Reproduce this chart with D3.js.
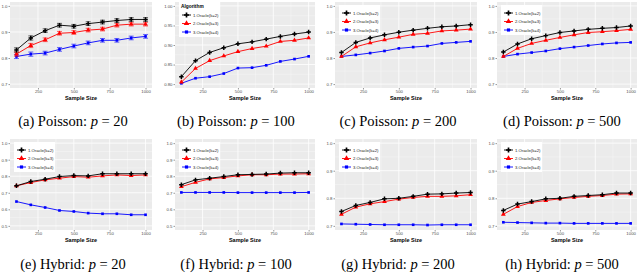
<!DOCTYPE html>
<html>
<head>
<meta charset="utf-8">
<script src="https://cdn.jsdelivr.net/npm/d3@7"></script>
<style>
  body { margin: 0; background: #fff; }
  svg { display: block; }
</style>
</head>
<body>
<svg width="640" height="274"></svg>
<script>
// sample sizes on the x axis
const sampleSizes = [100, 200, 300, 400, 500, 600, 700, 800, 900, 1000];
const xTicks = [250, 500, 750, 1000];
const xMinor = [125, 375, 625, 875];
const seriesNames = ['1.Oracle(k=2)', '2.Oracle(k=3)', '3.Oracle(k=4)'];
const seriesColors = ['#000000', '#ff0000', '#0000ff'];

// (a) Poisson p = 20
const poisson20K2 = [0.831, 0.877, 0.905, 0.926, 0.922, 0.932, 0.938, 0.944, 0.948, 0.948];
const poisson20K3 = [0.815, 0.848, 0.870, 0.895, 0.898, 0.907, 0.911, 0.926, 0.930, 0.930];
const poisson20K4 = [0.806, 0.815, 0.819, 0.833, 0.846, 0.858, 0.868, 0.868, 0.877, 0.883];
const poisson20Err = [0.008, 0.008, 0.007, 0.007, 0.007, 0.007, 0.007, 0.007, 0.007, 0.007];
const yTicksA = [0.7, 0.8, 0.9, 1.0];

// (b) Poisson p = 100
const poisson100K2 = [0.819, 0.860, 0.881, 0.893, 0.903, 0.908, 0.915, 0.922, 0.928, 0.933];
const poisson100K3 = [0.805, 0.840, 0.860, 0.872, 0.883, 0.891, 0.897, 0.909, 0.912, 0.918];
const poisson100K4 = [0.802, 0.815, 0.819, 0.827, 0.841, 0.842, 0.848, 0.858, 0.864, 0.871];
const yTicksB = [0.80, 0.85, 0.90, 0.95, 1.00];

// (c) Poisson p = 200
const poisson200K2 = [0.821, 0.860, 0.877, 0.889, 0.899, 0.907, 0.914, 0.920, 0.923, 0.928];
const poisson200K3 = [0.806, 0.843, 0.858, 0.870, 0.880, 0.891, 0.895, 0.904, 0.907, 0.911];
const poisson200K4 = [0.806, 0.812, 0.819, 0.827, 0.837, 0.842, 0.846, 0.856, 0.860, 0.864];
const yTicksC = [0.7, 0.8, 0.9, 1.0];

// (d) Poisson p = 500
const poisson500K2 = [0.823, 0.854, 0.874, 0.886, 0.898, 0.904, 0.910, 0.914, 0.917, 0.923];
const poisson500K3 = [0.806, 0.837, 0.856, 0.868, 0.879, 0.889, 0.898, 0.901, 0.905, 0.910];
const poisson500K4 = [0.806, 0.815, 0.821, 0.827, 0.836, 0.842, 0.848, 0.854, 0.858, 0.860];
const yTicksD = [0.7, 0.8, 0.9, 1.0];

// (e) Hybrid p = 20
const hybrid20K2 = [0.742, 0.768, 0.782, 0.798, 0.804, 0.802, 0.815, 0.815, 0.815, 0.815];
const hybrid20K3 = [0.742, 0.762, 0.778, 0.788, 0.798, 0.794, 0.802, 0.808, 0.804, 0.808];
const hybrid20K4 = [0.647, 0.627, 0.611, 0.593, 0.587, 0.577, 0.573, 0.573, 0.567, 0.567];
const yTicksE = [0.5, 0.6, 0.7, 0.8, 0.9, 1.0];

// (f) Hybrid p = 100
const hybrid100K2 = [0.749, 0.778, 0.788, 0.798, 0.809, 0.811, 0.813, 0.819, 0.821, 0.821];
const hybrid100K3 = [0.737, 0.763, 0.784, 0.792, 0.802, 0.809, 0.809, 0.813, 0.813, 0.815];
const hybrid100K4 = [0.702, 0.702, 0.702, 0.702, 0.701, 0.701, 0.701, 0.701, 0.701, 0.702];
const yTicksF = [0.5, 0.6, 0.7, 0.8, 0.9, 1.0];

// (g) Hybrid p = 200
const hybrid200K2 = [0.752, 0.774, 0.785, 0.798, 0.800, 0.807, 0.815, 0.816, 0.819, 0.821];
const hybrid200K3 = [0.742, 0.768, 0.780, 0.788, 0.797, 0.803, 0.807, 0.807, 0.809, 0.813];
const hybrid200K4 = [0.707, 0.706, 0.705, 0.704, 0.704, 0.704, 0.703, 0.704, 0.704, 0.704];
const yTicksG = [0.7, 0.8, 0.9, 1.0];

// (h) Hybrid p = 500
const hybrid500K2 = [0.756, 0.779, 0.788, 0.798, 0.800, 0.807, 0.810, 0.813, 0.819, 0.819];
const hybrid500K3 = [0.742, 0.770, 0.785, 0.792, 0.798, 0.803, 0.807, 0.810, 0.815, 0.816];
const hybrid500K4 = [0.713, 0.712, 0.711, 0.710, 0.710, 0.709, 0.709, 0.709, 0.709, 0.709];
const yTicksH = [0.7, 0.8, 0.9, 1.0];

const captionLetters = ['(a)', '(b)', '(c)', '(d)', '(e)', '(f)', '(g)', '(h)'];
const captionModels = ['Poisson', 'Poisson', 'Poisson', 'Poisson', 'Hybrid', 'Hybrid', 'Hybrid', 'Hybrid'];
const captionP = ['20', '100', '200', '500', '20', '100', '200', '500'];

// build the panel table from the arrays
// legend: 'none', 'plain' or 'titled'
const panels = [
  { series: [poisson20K2, poisson20K3, poisson20K4], err: poisson20Err, yTicks: yTicksA, legend: 'none' },
  { series: [poisson100K2, poisson100K3, poisson100K4], err: null, yTicks: yTicksB, legend: 'titled' },
  { series: [poisson200K2, poisson200K3, poisson200K4], err: null, yTicks: yTicksC, legend: 'plain' },
  { series: [poisson500K2, poisson500K3, poisson500K4], err: null, yTicks: yTicksD, legend: 'plain' },
  { series: [hybrid20K2, hybrid20K3, hybrid20K4], err: null, yTicks: yTicksE, legend: 'plain' },
  { series: [hybrid100K2, hybrid100K3, hybrid100K4], err: null, yTicks: yTicksF, legend: 'plain' },
  { series: [hybrid200K2, hybrid200K3, hybrid200K4], err: null, yTicks: yTicksG, legend: 'plain' },
  { series: [hybrid500K2, hybrid500K3, hybrid500K4], err: null, yTicks: yTicksH, legend: 'plain' }
];

// layout of the plot areas
const colX = [[10, 152], [175, 315], [335, 477], [497, 637]];
const rowY = [[2, 88], [139, 230]];
const captionX = [73, 236, 398, 562];
const captionY = [126, 269];

const svg = d3.select('svg');
const symbols = [d3.symbolCross, d3.symbolTriangle, d3.symbolSquare];
const symbolSizes = [11, 10, 7];

panels.forEach(function (p, i) {
  const col = i % 4, row = Math.floor(i / 4);
  const [x0, x1] = colX[col];
  const [y0, y1] = rowY[row];

  const lo = d3.min(p.yTicks), hi = d3.max(p.yTicks);
  const pad = (hi - lo) * 0.05;
  const x = d3.scaleLinear().domain([55, 1045]).range([x0, x1]);
  const y = d3.scaleLinear().domain([lo - pad, hi + pad]).range([y1, y0]);

  const g = svg.append('g');

  // panel background
  g.append('rect')
    .attr('x', x0).attr('y', y0)
    .attr('width', x1 - x0).attr('height', y1 - y0)
    .attr('fill', '#ebebeb');

  // minor grid
  const step = p.yTicks[1] - p.yTicks[0];
  const yMinor = p.yTicks.map(function (t) { return t - step / 2; })
    .concat([hi + step / 2])
    .filter(function (t) { return t > lo - pad && t < hi + pad; });
  g.selectAll('.ymin').data(yMinor).enter().append('line')
    .attr('x1', x0).attr('x2', x1)
    .attr('y1', function (d) { return y(d); }).attr('y2', function (d) { return y(d); })
    .attr('stroke', '#fafafa').attr('stroke-width', 0.4);
  g.selectAll('.xmin').data(xMinor).enter().append('line')
    .attr('y1', y0).attr('y2', y1)
    .attr('x1', function (d) { return x(d); }).attr('x2', function (d) { return x(d); })
    .attr('stroke', '#fafafa').attr('stroke-width', 0.4);

  // major grid
  g.selectAll('.ymaj').data(p.yTicks).enter().append('line')
    .attr('x1', x0).attr('x2', x1)
    .attr('y1', function (d) { return y(d); }).attr('y2', function (d) { return y(d); })
    .attr('stroke', '#ffffff').attr('stroke-width', 0.8);
  g.selectAll('.xmaj').data(xTicks).enter().append('line')
    .attr('y1', y0).attr('y2', y1)
    .attr('x1', function (d) { return x(d); }).attr('x2', function (d) { return x(d); })
    .attr('stroke', '#ffffff').attr('stroke-width', 0.8);

  // axes
  const fmt = (step < 0.1 - 1e-9) ? d3.format('.2f') : d3.format('.1f');
  const yAxis = g.append('g')
    .attr('transform', 'translate(' + x0 + ',0)')
    .call(d3.axisLeft(y).tickValues(p.yTicks).tickFormat(fmt).tickSize(1.5).tickPadding(1));
  const xAxis = g.append('g')
    .attr('transform', 'translate(0,' + y1 + ')')
    .call(d3.axisBottom(x).tickValues(xTicks).tickFormat(d3.format('d')).tickSize(1.5).tickPadding(0.5));
  [xAxis, yAxis].forEach(function (a) {
    a.select('.domain').remove();
    a.selectAll('line').attr('stroke', '#333').attr('stroke-width', 0.5);
    a.selectAll('text').attr('fill', '#4d4d4d')
      .style('font', '4.3px "Liberation Sans", Arial, sans-serif');
  });

  g.append('text')
    .attr('x', (x0 + x1) / 2).attr('y', y1 + 12)
    .attr('text-anchor', 'middle')
    .style('font', 'bold 5.5px "Liberation Sans", Arial, sans-serif')
    .text('Sample Size');

  // series
  const line = d3.line()
    .x(function (d, j) { return x(sampleSizes[j]); })
    .y(function (d) { return y(d); });

  p.series.slice().reverse().forEach(function (vals, rk) {
    const k = p.series.length - 1 - rk;
    const s = g.append('g');
    if (p.err) {
      s.selectAll('.eb').data(vals).enter().append('path')
        .attr('d', function (d, j) {
          const cx = x(sampleSizes[j]), a = y(d - p.err[j]), b = y(d + p.err[j]);
          return 'M' + (cx - 2.5) + ',' + a + 'H' + (cx + 2.5) +
            'M' + cx + ',' + a + 'V' + b +
            'M' + (cx - 2.5) + ',' + b + 'H' + (cx + 2.5);
        })
        .attr('stroke', seriesColors[k]).attr('stroke-width', 0.6).attr('fill', 'none');
    }
    s.append('path').datum(vals)
      .attr('d', line)
      .attr('fill', 'none')
      .attr('stroke', seriesColors[k])
      .attr('stroke-width', 0.9);
    s.selectAll('.pt').data(vals).enter().append('path')
      .attr('transform', function (d, j) {
        return 'translate(' + x(sampleSizes[j]) + ',' + y(d) + ')';
      })
      .attr('d', d3.symbol().type(symbols[k]).size(symbolSizes[k]))
      .attr('fill', seriesColors[k]);
  });

  // legend
  if (p.legend !== 'none') {
    const titled = p.legend === 'titled';
    const lx = x0 + 4;
    const ly = titled ? y0 - 2 : y0 + 3;
    const lh = titled ? 37 : 30;
    const leg = g.append('g');
    leg.append('rect')
      .attr('x', lx).attr('y', ly)
      .attr('width', 41).attr('height', lh)
      .attr('fill', '#ffffff');
    let ey = ly + 8;
    if (titled) {
      leg.append('text')
        .attr('x', lx + 2).attr('y', ly + 8)
        .style('font', 'bold 4.8px "Liberation Sans", Arial, sans-serif')
        .text('Algorithm');
      ey = ly + 15;
    }
    seriesNames.forEach(function (name, k) {
      const cy = ey + k * 8.5;
      leg.append('line')
        .attr('x1', lx + 3).attr('x2', lx + 12)
        .attr('y1', cy).attr('y2', cy)
        .attr('stroke', seriesColors[k]).attr('stroke-width', 0.9);
      leg.append('path')
        .attr('transform', 'translate(' + (lx + 7.5) + ',' + cy + ')')
        .attr('d', d3.symbol().type(symbols[k]).size(symbolSizes[k] + 3))
        .attr('fill', seriesColors[k]);
      leg.append('text')
        .attr('x', lx + 14).attr('y', cy + 1.5)
        .attr('fill', '#222')
        .style('font', '4.2px "Liberation Sans", Arial, sans-serif')
        .text(name);
    });
  }

  // caption
  const cap = svg.append('text')
    .attr('x', captionX[col]).attr('y', captionY[row])
    .attr('text-anchor', 'middle')
    .style('font', '14.5px "Liberation Serif", "Times New Roman", serif');
  cap.append('tspan').text(captionLetters[i] + ' ' + captionModels[i] + ': ');
  cap.append('tspan').style('font-style', 'italic').text('p');
  cap.append('tspan').text(' = ' + captionP[i]);
});
</script>
</body>
</html>
